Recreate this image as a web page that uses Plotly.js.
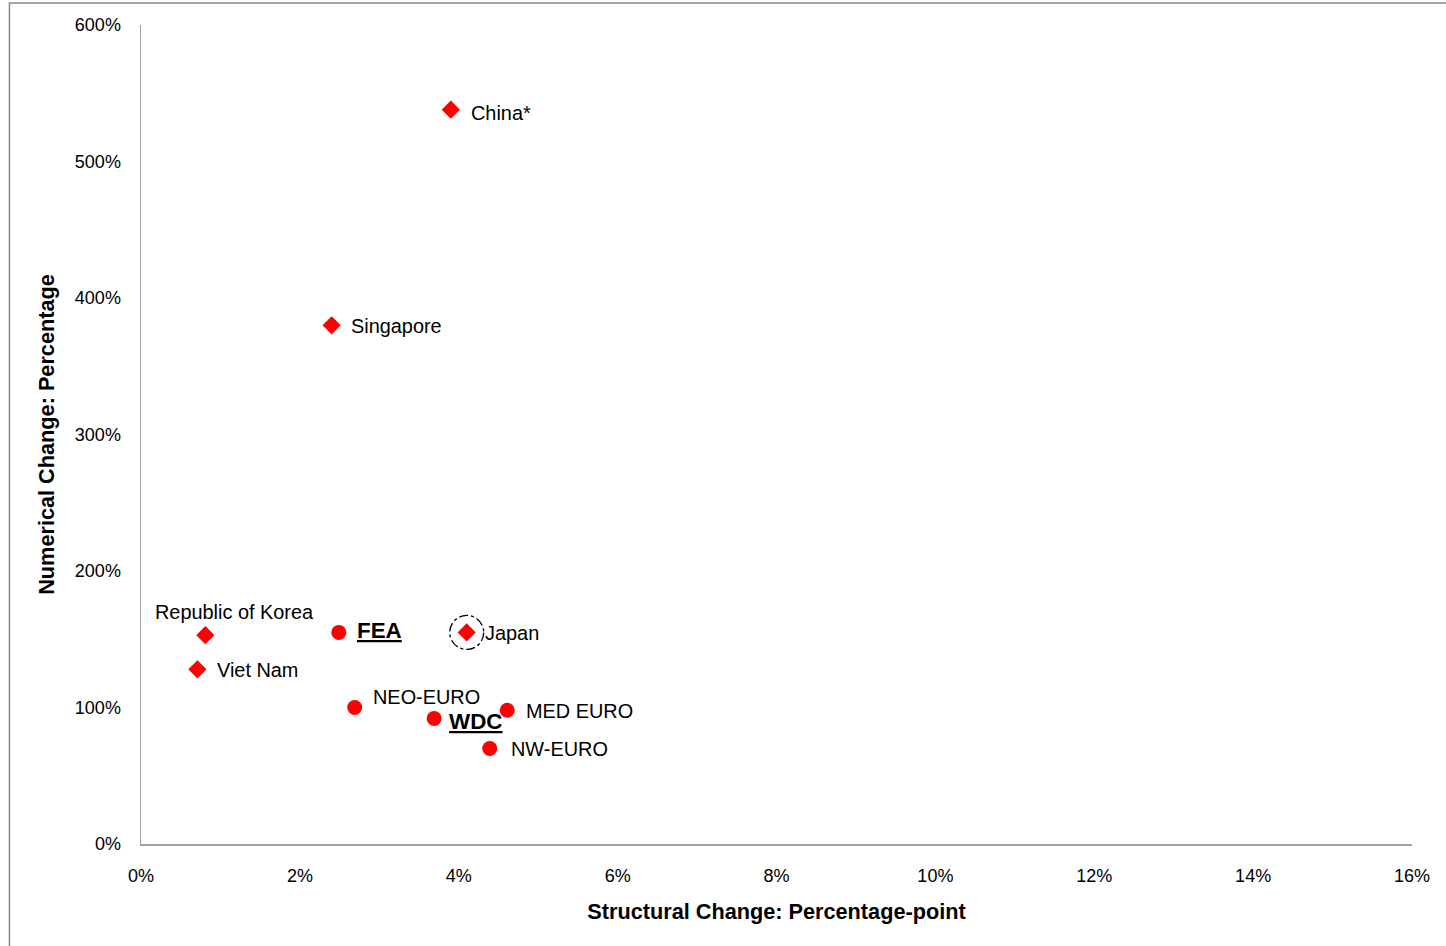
<!DOCTYPE html>
<html>
<head>
<meta charset="utf-8">
<script src="https://cdn.plot.ly/plotly-3.0.1.min.js"></script>
<style>html,body{margin:0;padding:0;background:#fff;}#chart{width:1446px;height:946px;}</style>
</head>
<body>
<div id="chart"></div>
<script>
// Countries (diamonds)
const countryNames = ["China*", "Singapore", "Republic of Korea", "Viet Nam", "Japan"];
const countryX = [0.039, 0.024, 0.0081, 0.0071, 0.041];
const countryY = [5.38, 3.80, 1.53, 1.28, 1.55];
// Regions (circles)
const regionNames = ["FEA", "NEO-EURO", "WDC", "MED EURO", "NW-EURO"];
const regionX = [0.0249, 0.0269, 0.0369, 0.0461, 0.0439];
const regionY = [1.55, 1.00, 0.92, 0.98, 0.70];
const regionBold = [true, false, true, false, false];
// Ticks
const xTicks = [0, 0.02, 0.04, 0.06, 0.08, 0.10, 0.12, 0.14, 0.16];
const yTicks = [0, 1, 2, 3, 4, 5, 6];

const FONT = "Liberation Sans, Arial, sans-serif";

const traces = [
  {x: countryX, y: countryY, type: "scatter", mode: "markers", name: "Countries",
   marker: {symbol: "diamond", size: 14, color: "#ff0000"}, hoverinfo: "text", text: countryNames},
  {x: regionX, y: regionY, type: "scatter", mode: "markers", name: "Regions",
   marker: {symbol: "circle", size: 15, color: "#ff0000"}, hoverinfo: "text", text: regionNames}
];

// label offsets (pixels) — styling only
const countryOffsets = {"China*": [18, -3, "left"], "Singapore": [17, -1, "left"],
  "Republic of Korea": [29, 23, "center"], "Viet Nam": [18, -1, "left"], "Japan": [16, -1, "left"]};
const regionOffsets = {"FEA": [16, 2, "left"], "NEO-EURO": [16, 11, "left"], "WDC": [13, -3, "left"],
  "MED EURO": [17, -1, "left"], "NW-EURO": [19, -1, "left"]};

const annotations = [];
countryNames.forEach((n, i) => {
  const o = countryOffsets[n];
  annotations.push({x: countryX[i], y: countryY[i], text: n, showarrow: false,
    xanchor: o[2], yanchor: "middle", xshift: o[0], yshift: o[1],
    font: {family: FONT, size: 19.9, color: "#000"}});
});
regionNames.forEach((n, i) => {
  const o = regionOffsets[n];
  annotations.push({x: regionX[i], y: regionY[i],
    text: regionBold[i] ? "<b><u>" + n + "</u></b>" : n, showarrow: false,
    xanchor: o[2], yanchor: "middle", xshift: o[0], yshift: o[1],
    font: {family: FONT, size: regionBold[i] ? 22.4 : 19.9, color: "#000"}});
});

const japanIdx = countryNames.indexOf("Japan");
const shapes = [
  {type: "circle", xref: "x", yref: "y", xsizemode: "pixel", ysizemode: "pixel",
   xanchor: countryX[japanIdx], yanchor: countryY[japanIdx],
   x0: -17, x1: 17, y0: -17, y1: 17,
   line: {color: "#000", width: 1.3, dash: "dashdot"}, fillcolor: "rgba(0,0,0,0)"},
  {type: "rect", xref: "paper", yref: "paper", x0: -0.1035, x1: 1.2, y0: -0.3, y1: 1.027,
   line: {color: "#8c8c8c", width: 1.5}, fillcolor: "rgba(0,0,0,0)", layer: "below"}
];

const layout = {
  width: 1446, height: 946,
  margin: {l: 141, r: 34, t: 25, b: 102, pad: 0},
  paper_bgcolor: "#fff", plot_bgcolor: "#fff",
  showlegend: false,
  font: {family: FONT, size: 18, color: "#000"},
  xaxis: {range: [0, 0.16], tickvals: xTicks, tickformat: ".0%",
    showgrid: false, zeroline: false, showline: true, linecolor: "#a0a0a0", linewidth: 1.5,
    ticks: "outside", ticklen: 15, tickcolor: "rgba(0,0,0,0)",
    tickfont: {family: FONT, size: 18, color: "#000"},
    title: {text: "<b>Structural Change: Percentage-point</b>", font: {family: FONT, size: 21.7, color: "#000"}, standoff: 18}},
  yaxis: {range: [0, 6], tickvals: yTicks, ticktext: yTicks.map(v => (v * 100) + "%"),
    showgrid: false, zeroline: false, showline: true, linecolor: "#a0a0a0", linewidth: 1.5,
    ticks: "outside", ticklen: 15, tickcolor: "rgba(0,0,0,0)",
    tickfont: {family: FONT, size: 18, color: "#000"},
    title: {text: "<b>Numerical Change: Percentage</b>", font: {family: FONT, size: 21.7, color: "#000"}, standoff: 14}},
  annotations: annotations,
  shapes: shapes
};

Plotly.newPlot("chart", traces, layout, {displayModeBar: false, staticPlot: true});
</script>
</body>
</html>
